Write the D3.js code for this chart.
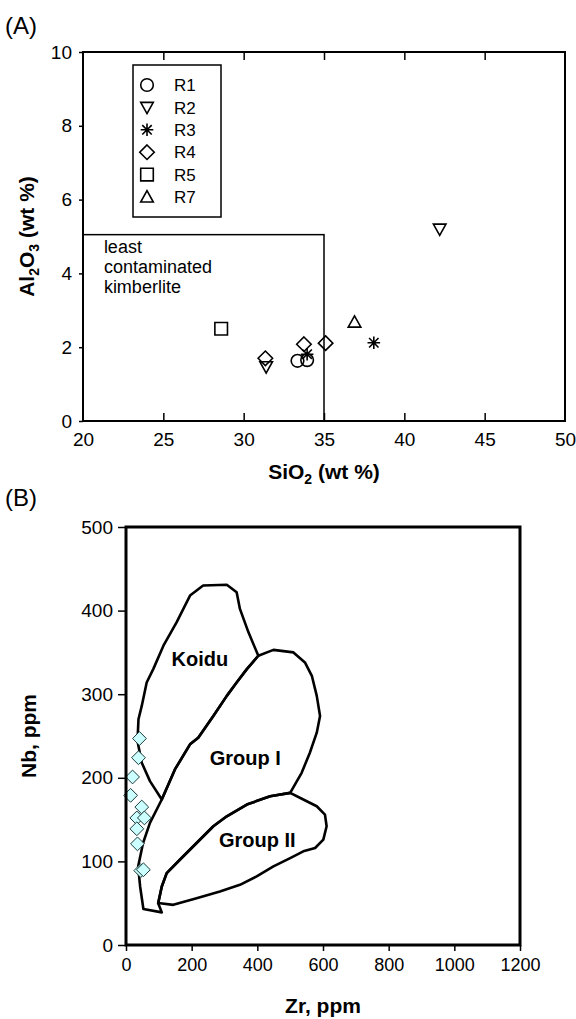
<!DOCTYPE html>
<html>
<head>
<meta charset="utf-8">
<script src="https://cdn.jsdelivr.net/npm/d3@7"></script>
<style>
body{margin:0;background:#fff;}
text{font-family:"Liberation Sans",Arial,Helvetica,sans-serif;fill:#000;}
</style>
</head>
<body>
<svg id="fig" width="576" height="1019"></svg>
<script>
// ---- panel A : SiO2 vs Al2O3 (wt %) ----
var seriesNames = ['R1','R2','R3','R4','R5','R7'];
var seriesMarks = ['circle','triDown','star','diamond','square','triUp'];
var r1Points = [[33.35,1.63],[33.95,1.65]];
var r2Points = [[31.4,1.47],[42.2,5.2]];
var r3Points = [[33.95,1.81],[38.1,2.12]];
var r4Points = [[31.35,1.70],[33.75,2.08],[35.1,2.11]];
var r5Points = [[28.6,2.5]];
var r7Points = [[36.9,2.68]];
var siTicks = [20,25,30,35,40,45,50];
var alTicks = [0,2,4,6,8,10];
var leastBox = [20,35,0,5.05]; // SiO2 from/to, Al2O3 from/to

// ---- panel B : Zr vs Nb (ppm) ----
var sampleZr = [41,38,20,14,48,33,56,33,35,45,53];
var sampleNb = [247,224,201,179,165,152,152,139,121,89,90];
var koiduOutline = [[235,430],[307,431],[337,422],[347,402],[373,374],[403,346],
  [368,330],[337,314],[307,298],[266,274],[220,248],[195,240],[149,210],[109,174],
  [73,196],[48,218],[35,244],[38,270],[48,286],[63,314],[83,330],[114,358],[154,386],[195,418]];
var group1Outline = [[403,346],[449,353],[510,350],[545,338],[566,322],[581,298],[591,274],
  [581,254],[560,230],[535,206],[500,182],[439,178],[368,168],[307,154],[266,142],[215,122],
  [164,102],[124,86],[109,70],[98,50],[109,39],[53,43],[43,70],[37,94],[52,122],[73,146],
  [109,174],[149,210],[195,240],[220,248],[266,274],[307,298],[337,314],[368,330]];
var group2Outline = [[104,50],[144,48],[215,56],[286,64],[347,72],[398,82],[449,94],[500,104],
  [540,112],[576,116],[601,126],[611,142],[606,156],[581,166],[540,174],[500,182],[439,178],
  [368,168],[307,154],[266,142],[215,122],[164,102],[124,86],[109,70],[98,50]];
var fieldLabels = [{name:'Koidu',zr:225,nb:342},{name:'Group I',zr:363,nb:224},{name:'Group II',zr:400,nb:126}];
var zrTicks = [0,200,400,600,800,1000,1200];
var nbTicks = [0,100,200,300,400,500];

var svg = d3.select('#fig');

function markPath(type, r){
	var p = d3.path();
	if(type==='circle'){ p.arc(0,0,r,0,2*Math.PI); }
	else if(type==='square'){ p.rect(-r,-r,2*r,2*r); }
	else if(type==='diamond'){ p.moveTo(0,-r*1.15);p.lineTo(r*1.15,0);p.lineTo(0,r*1.15);p.lineTo(-r*1.15,0);p.closePath(); }
	else if(type==='triDown'){ p.moveTo(-r,-r*0.8);p.lineTo(r,-r*0.8);p.lineTo(0,r*1.0);p.closePath(); }
	else if(type==='triUp'){ p.moveTo(-r,r*0.8);p.lineTo(r,r*0.8);p.lineTo(0,-r*1.0);p.closePath(); }
	else if(type==='star'){
		var d = r*0.75;
		p.moveTo(-r,0);p.lineTo(r,0);p.moveTo(0,-r);p.lineTo(0,r);
		p.moveTo(-d,-d);p.lineTo(d,d);p.moveTo(-d,d);p.lineTo(d,-d);
	}
	return p.toString();
}

// ================= panel A =================
var xA = d3.scaleLinear().domain([20,50]).range([83,565]);
var yA = d3.scaleLinear().domain([0,10]).range([421,52]);
var gA = svg.append('g').attr('id','panelA');

gA.append('text').text('(A)').attr('x',5).attr('y',34).style('font-size','24px');

// inner ticks top & bottom
gA.append('g').attr('transform','translate(0,'+yA(0)+')')
	.call(d3.axisBottom(xA).tickValues(siTicks.slice(1,-1)).tickSize(-8).tickFormat(''))
	.call(function(g){g.select('.domain').remove();});
gA.append('g').attr('transform','translate(0,'+yA(10)+')')
	.call(d3.axisTop(xA).tickValues(siTicks.slice(1,-1)).tickSize(-8).tickFormat(''))
	.call(function(g){g.select('.domain').remove();});
// labels
gA.append('g').attr('transform','translate(0,'+yA(0)+')')
	.call(d3.axisBottom(xA).tickValues(siTicks).tickSize(0).tickPadding(12))
	.call(function(g){g.select('.domain').remove();g.selectAll('text').style('font-size','19px').attr('font-family',null);});
gA.append('g').attr('transform','translate('+xA(20)+',0)')
	.call(d3.axisLeft(yA).tickValues(alTicks).tickSize(4).tickPadding(7))
	.call(function(g){g.select('.domain').remove();g.selectAll('text').style('font-size','19px').attr('font-family',null);});
gA.selectAll('.tick line').attr('stroke','#000').attr('stroke-width',1.5);

gA.append('rect').attr('x',xA(20)).attr('y',yA(10)).attr('width',xA(50)-xA(20)).attr('height',yA(0)-yA(10))
	.attr('fill','none').attr('stroke','#000').attr('stroke-width',2);

// least contaminated box
gA.append('rect').attr('x',xA(leastBox[0])).attr('y',yA(leastBox[3]))
	.attr('width',xA(leastBox[1])-xA(leastBox[0])).attr('height',yA(leastBox[2])-yA(leastBox[3]))
	.attr('fill','none').attr('stroke','#000').attr('stroke-width',1.5);
gA.append('text').attr('x',xA(21.3)).attr('y',yA(4.55)).style('font-size','18px')
	.selectAll('tspan').data(['least','contaminated','kimberlite']).enter().append('tspan')
	.attr('x',xA(21.3)).attr('dy',function(d,i){return i?20:0;}).text(function(d){return d;});

// legend
var legend = gA.append('g').attr('transform','translate(133,65)');
legend.append('rect').attr('width',88).attr('height',152).attr('fill','#fff').attr('stroke','#000').attr('stroke-width',1.5);
legend.selectAll('g.item').data(seriesNames).enter().append('g').attr('class','item')
	.attr('transform',function(d,i){return 'translate(0,'+(20+i*22.4)+')';})
	.each(function(d,i){
		d3.select(this).append('path').attr('d',markPath(seriesMarks[i],6.3)).attr('transform','translate(14,0)')
			.attr('fill','none').attr('stroke','#000').attr('stroke-width',1.6);
		d3.select(this).append('text').text(d).attr('x',41).attr('dy','0.36em').style('font-size','17px');
	});

// points
var seriesPoints = [r1Points,r2Points,r3Points,r4Points,r5Points,r7Points];
seriesPoints.forEach(function(pts,i){
	gA.append('g').selectAll('path').data(pts).enter().append('path')
		.attr('d',markPath(seriesMarks[i],6.3))
		.attr('transform',function(d){return 'translate('+xA(d[0])+','+yA(d[1])+')';})
		.attr('fill','none').attr('stroke','#000').attr('stroke-width',1.6);
});

// axis titles
var tA = gA.append('text').attr('text-anchor','middle').attr('x',xA(35)).attr('y',479)
	.style('font-size','21px').style('font-weight','bold');
tA.append('tspan').text('SiO');
tA.append('tspan').text('2').attr('dy',5).style('font-size','14px');
tA.append('tspan').text(' (wt %)').attr('dy',-5);

var tY = gA.append('text').attr('text-anchor','middle')
	.attr('transform','translate(34,'+yA(5)+') rotate(-90)')
	.style('font-size','21px').style('font-weight','bold');
tY.append('tspan').text('Al');
tY.append('tspan').text('2').attr('dy',5).style('font-size','14px');
tY.append('tspan').text('O').attr('dy',-5);
tY.append('tspan').text('3').attr('dy',5).style('font-size','14px');
tY.append('tspan').text(' (wt %)').attr('dy',-5);

// ================= panel B =================
var xB = d3.scaleLinear().domain([0,1200]).range([126,520]);
var yB = d3.scaleLinear().domain([0,500]).range([945,527]);
var gB = svg.append('g').attr('id','panelB');

gB.append('text').text('(B)').attr('x',5).attr('y',506).style('font-size','24px');

gB.append('g').attr('transform','translate(0,'+yB(0)+')')
	.call(d3.axisBottom(xB).tickValues(zrTicks).tickSize(6).tickPadding(7).tickFormat(d3.format('d')))
	.call(function(g){g.select('.domain').remove();g.selectAll('text').style('font-size','18px').attr('font-family',null);});
gB.append('g').attr('transform','translate('+xB(0)+',0)')
	.call(d3.axisLeft(yB).tickValues(nbTicks).tickSize(8).tickPadding(5))
	.call(function(g){g.select('.domain').remove();g.selectAll('text').style('font-size','19px').attr('font-family',null);});
gB.selectAll('.tick line').attr('stroke','#000').attr('stroke-width',1.5);

var outline = d3.line().x(function(d){return xB(d[0]);}).y(function(d){return yB(d[1]);}).curve(d3.curveLinearClosed);
gB.selectAll('path.field').data([koiduOutline,group1Outline,group2Outline]).enter().append('path')
	.attr('class','field').attr('d',outline)
	.attr('fill','none').attr('stroke','#000').attr('stroke-width',2.6).attr('stroke-linejoin','round');

gB.selectAll('text.field').data(fieldLabels).enter().append('text').attr('class','field')
	.attr('x',function(d){return xB(d.zr);}).attr('y',function(d){return yB(d.nb);})
	.attr('dy','0.36em').attr('text-anchor','middle').style('font-size','20px').style('font-weight','bold')
	.text(function(d){return d.name;});

gB.append('g').selectAll('path').data(sampleZr).enter().append('path')
	.attr('d',markPath('diamond',6))
	.attr('transform',function(d,i){return 'translate('+xB(d)+','+yB(sampleNb[i])+')';})
	.attr('fill','#ccffff').attr('stroke','#1a3a3a').attr('stroke-width',1);

gB.append('rect').attr('x',xB(0)).attr('y',yB(500)).attr('width',xB(1200)-xB(0)).attr('height',yB(0)-yB(500))
	.attr('fill','none').attr('stroke','#000').attr('stroke-width',3);

gB.append('text').text('Zr, ppm').attr('text-anchor','middle').attr('x',xB(600)).attr('y',1013)
	.style('font-size','21px').style('font-weight','bold');
gB.append('text').text('Nb, ppm').attr('text-anchor','middle')
	.attr('transform','translate(36,'+yB(250)+') rotate(-90)')
	.style('font-size','21px').style('font-weight','bold');
</script>
</body>
</html>
